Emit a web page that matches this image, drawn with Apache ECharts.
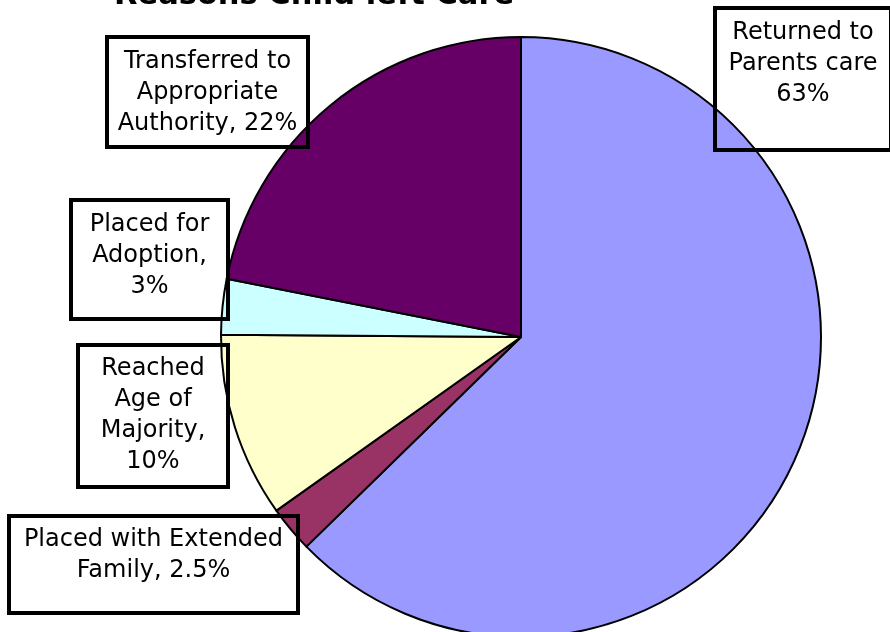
<!DOCTYPE html>
<html>
<head>
<meta charset="utf-8">
<script src="https://cdn.jsdelivr.net/npm/echarts@6/dist/echarts.min.js"></script>
<style>
html,body{margin:0;padding:0;background:#fff;}
#chart{width:890px;height:632px;}
</style>
</head>
<body>
<div id="chart"></div>
<script>
// ---- data ----
const categories = [
  "Returned to Parents care",
  "Placed with Extended Family",
  "Reached Age of Majority",
  "Placed for Adoption",
  "Transferred to Appropriate Authority"
];
const values = [63, 2.5, 10, 3, 22];
const labelTexts = [
  "Returned to\nParents care\n63%",
  "Placed with Extended\nFamily, 2.5%",
  "Reached\nAge of\nMajority,\n10%",
  "Placed for\nAdoption,\n3%",
  "Transferred to\nAppropriate\nAuthority, 22%"
];
const colors = ["#9999FF", "#993366", "#FFFFCC", "#CCFFFF", "#660066"];
const titleText = "Reasons Child left Care";

// ---- label box layout (positions only) ----
const LH = 31;
const boxes = [
  {x: 715, y: 8,   w: 176, h: 142, first: 33},
  {x: 9,   y: 516, w: 289, h: 97,  first: 540},
  {x: 78,  y: 345, w: 150, h: 142, first: 369},
  {x: 71,  y: 200, w: 157, h: 119, first: 225},
  {x: 107, y: 37,  w: 201, h: 110, first: 62}
];

const data = categories.map((name, i) => {
  const b = boxes[i];
  const n = labelTexts[i].split("\n").length;
  const pt = b.first - LH / 2 - b.y;
  const pb = b.h - pt - n * LH;
  return {
    name: name,
    value: values[i],
    itemStyle: {color: colors[i]},
    label: {
      formatter: labelTexts[i],
      width: b.w,
      padding: [pt, 0, pb, 0]
    }
  };
});

const chart = echarts.init(document.getElementById('chart'), null, {renderer: 'canvas'});
chart.setOption({
  backgroundColor: '#ffffff',
  animation: false,
  title: {
    text: titleText,
    left: 114,
    top: -19,
    padding: 0,
    textStyle: {fontFamily: 'DejaVu Sans', fontSize: 30.5, fontWeight: 'bold', color: '#000'}
  },
  series: [{
    type: 'pie',
    center: [521, 337],
    radius: [0, 300],
    startAngle: 90,
    clockwise: true,
    avoidLabelOverlap: false,
    silent: true,
    itemStyle: {borderColor: '#000', borderWidth: 2},
    label: {
      show: true,
      position: 'outside',
      overflow: 'none',
      fontFamily: 'DejaVu Sans',
      fontSize: 24,
      lineHeight: LH,
      color: '#000',
      align: 'center',
      backgroundColor: 'transparent',
      borderColor: '#000',
      borderWidth: 2
    },
    labelLine: {show: false},
    labelLayout: function (p) {
      const b = boxes[p.dataIndex];
      return {x: b.x + b.w / 2, y: b.y, align: 'center', verticalAlign: 'top'};
    },
    data: data
  }]
});
</script>
</body>
</html>
